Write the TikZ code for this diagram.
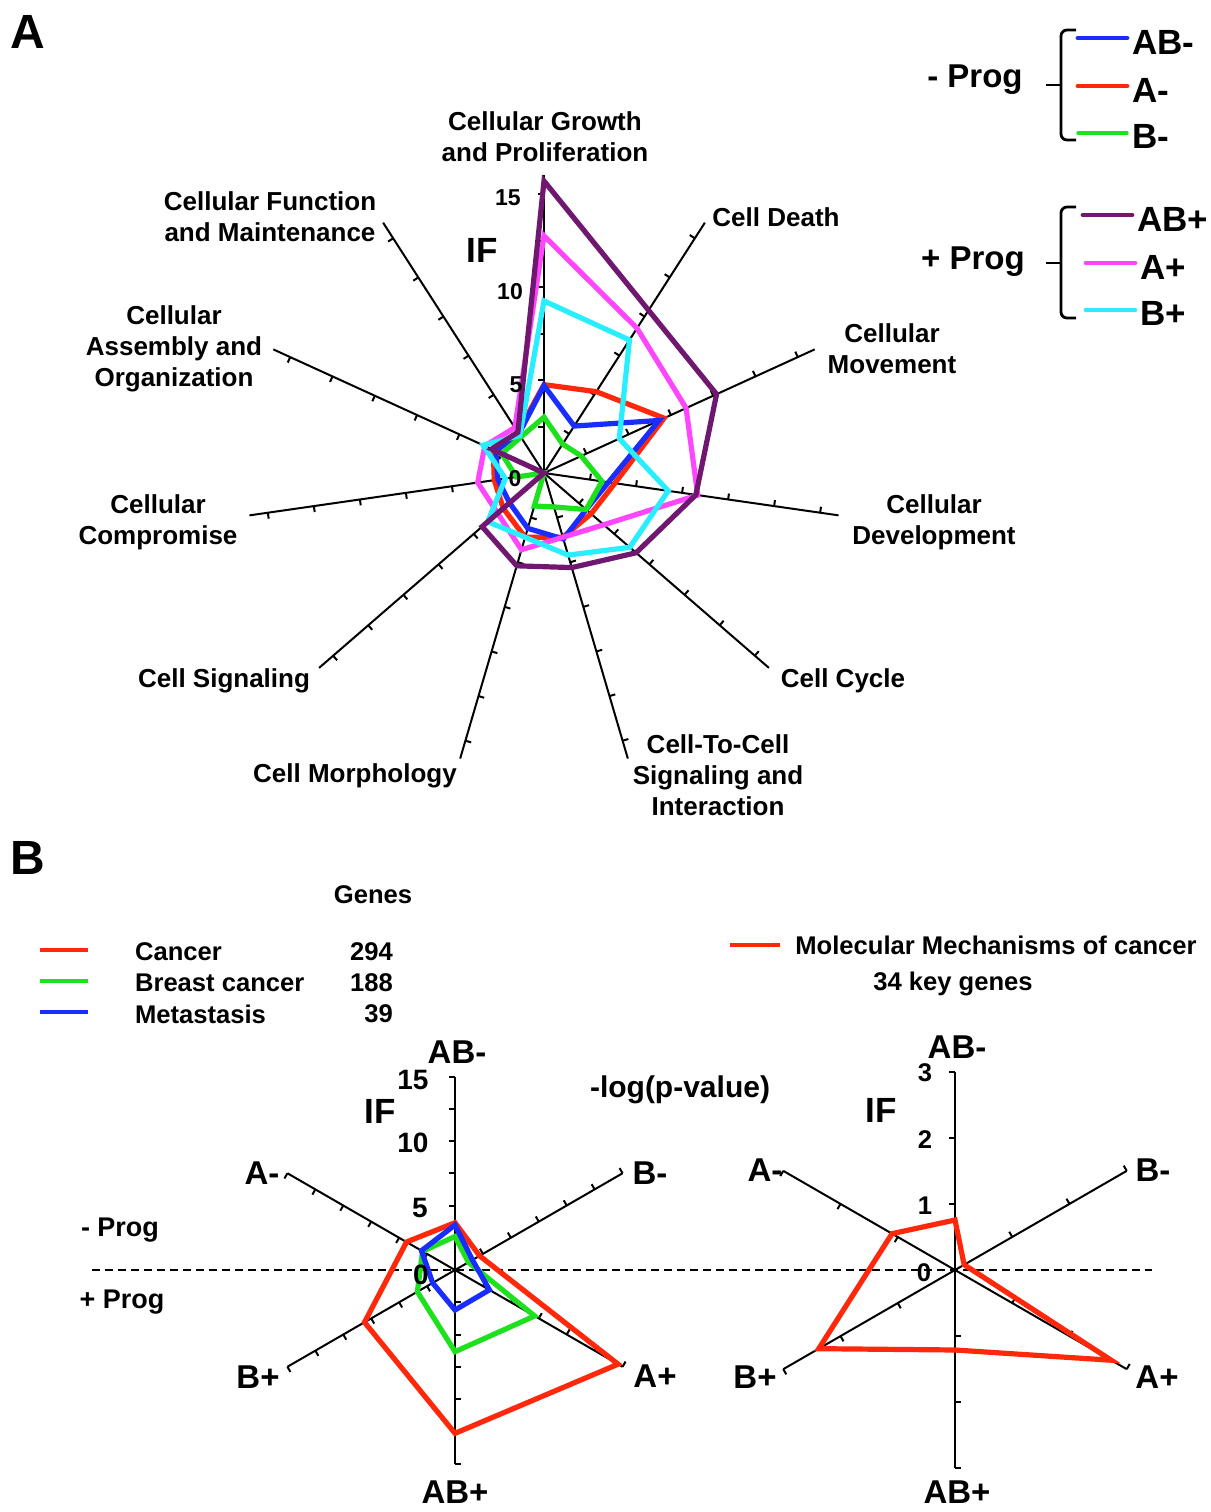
\documentclass[tikz,border=0pt]{standalone}
\usepackage{fontspec}
\setmainfont{Liberation Sans}

\definecolor{abneg}{RGB}{25,45,255}
\definecolor{aneg}{RGB}{255,40,10}
\definecolor{bneg}{RGB}{30,225,30}
\definecolor{abpos}{RGB}{112,24,112}
\definecolor{apos}{RGB}{255,70,255}
\definecolor{bpos}{RGB}{40,238,255}

\tikzset{
  poly/.style={line width=2.6pt},
  axisline/.style={line width=1pt},
  keyline/.style={line width=2.4pt, line cap=round},
  brace/.style={line width=1.4pt, rounded corners=3pt},
  cat/.style={font=\fontsize{13}{15.5}\selectfont\bfseries, align=center},
  num/.style={font=\fontsize{11.5}{13}\selectfont\bfseries},
  bignum/.style={font=\fontsize{14}{16}\selectfont\bfseries},
  axlab/.style={font=\fontsize{16.5}{19}\selectfont\bfseries},
  iflab/.style={font=\fontsize{17.5}{20}\selectfont\bfseries},
  keylab/.style={font=\fontsize{17.5}{20}\selectfont\bfseries, anchor=west, inner sep=0pt},
  proglab/.style={font=\fontsize{16.5}{19}\selectfont\bfseries},
  panel/.style={font=\fontsize{24}{28}\selectfont\bfseries},
  small/.style={font=\fontsize{12.8}{15}\selectfont\bfseries},
}

\newcommand\sA{18.6}
\newcommand\sB{12.9}
\newcommand\sC{66.1}
% colour, number of axes, scale, first value, other values
\newcommand\radar[5]{\draw[poly,#1] (90:{#4*#3}) \foreach \v [count=\i] in {#5} {-- ({90-\i*360/#2}:{\v*#3})} -- cycle;}

\begin{document}
\begin{tikzpicture}[x=0.5pt, y=-0.5pt]
\useasboundingbox (0,0) rectangle (1211,1512);

\node[panel] (lblA) at (28,32) {A};
\node[panel] (lblB) at (28,858) {B};

% panel A
\begin{scope}[shift={(544,473)}, yscale=-1]
\foreach \k in {0,...,10} {
  \draw[axisline] (0,0) -- ({90-\k*360/11}:{16*\sA});
  \foreach \t in {2.5,5,...,15}
    \draw[axisline] ({90-\k*360/11}:{\t*\sA}) -- ++({180-\k*360/11}:6);
}
\radar{aneg}{11}{\sA}{4.75}{5.2,7.1,3.85,3.35,3.6,3.6,2.9,2.7,3.0,2.6}
\radar{abneg}{11}{\sA}{4.7}{3.0,6.8,3.5,3.0,3.7,3.1,2.45,2.5,2.85,2.5}
\radar{bneg}{11}{\sA}{3.0}{1.85,2.2,3.15,3.0,1.9,1.85,0.0,1.5,2.5,2.3}
\radar{apos}{11}{\sA}{12.75}{9.25,8.4,8.35,4.25,3.6,4.3,3.3,3.6,3.5,2.9}
\radar{bpos}{11}{\sA}{9.25}{8.5,4.45,6.75,6.1,4.6,3.6,4.0,2.1,3.6,2.4}
\radar{abpos}{11}{\sA}{15.7}{10.4,10.2,8.25,6.55,5.3,5.2,4.4,0.0,3.1,2.6}
\end{scope}

\node[num] (n15) at (508,198) {15};
\node[num] (n10) at (510,292) {10};
\node[num] (n5) at (516,385) {5};
\node[num] (n0) at (515,479) {0};
\node[iflab] (ifA) at (482,250) {IF};

\node[cat] (growth) at (545,137) {Cellular Growth\\and Proliferation};
\node[cat] (death) at (776,217) {Cell Death};
\node[cat] (movement) at (892,349) {Cellular\\Movement};
\node[cat] (develop) at (934,522) {Cellular\\Development};
\node[cat] (cycle) at (843,681) {Cell Cycle};
\node[cat] (celltocell) at (718,775) {Cell-To-Cell\\Signaling and\\Interaction};
\node[cat] (morph) at (355,776) {Cell Morphology};
\node[cat] (signal) at (224,681) {Cell Signaling};
\node[cat] (compromise) at (158,522) {Cellular\\Compromise};
\node[cat] (assembly) at (174,349) {Cellular\\Assembly and\\Organization};
\node[cat] (function) at (270,217) {Cellular Function\\and Maintenance};

% key of panel A
\node[proglab] (minusprog) at (975,80) {- Prog};
\draw[brace] (1076,30) -- (1061,30) -- (1061,140) -- (1076,140);
\draw[brace] (1046,85) -- (1061,85);
\draw[keyline, abneg] (1078,38) -- (1127,38);
\draw[keyline, aneg] (1078,86) -- (1127,86);
\draw[keyline, bneg, line width=1.6pt] (1078,133) -- (1127,133);
\node[keylab] (kabn) at (1132,42) {AB-};
\node[keylab] (kan) at (1132,90) {A-};
\node[keylab] (kbn) at (1132,136) {B-};

\node[proglab] (plusprog) at (973,262) {+ Prog};
\draw[brace] (1076,207) -- (1061,207) -- (1061,318) -- (1076,318);
\draw[brace] (1046,263) -- (1061,263);
\draw[keyline, abpos] (1083,215) -- (1132,215);
\draw[keyline, apos] (1086,263) -- (1135,263);
\draw[keyline, bpos] (1086,310) -- (1135,310);
\node[keylab] (kabp) at (1137,219) {AB+};
\node[keylab] (kap) at (1140,267) {A+};
\node[keylab] (kbp) at (1140,313) {B+};

% panel B key
\node[small] (genes) at (373,895) {Genes};
\draw[keyline, aneg, line width=2pt, line cap=butt] (40,950) -- (88,950);
\draw[keyline, bneg, line width=2pt, line cap=butt] (40,981) -- (88,981);
\draw[keyline, abneg, line width=2pt, line cap=butt] (40,1012) -- (88,1012);
\node[small, anchor=west] (cancer) at (128,952) {Cancer};
\node[small, anchor=west] (breast) at (128,983) {Breast cancer};
\node[small, anchor=west] (meta) at (128,1014) {Metastasis};
\node[small, anchor=east] (g294) at (400,952) {294};
\node[small, anchor=east] (g188) at (400,983) {188};
\node[small, anchor=east] (g39) at (400,1014) {39};

\draw[keyline, aneg, line width=2pt, line cap=butt] (730,945) -- (780,945);
\node[small] (molmech) at (996,945) {Molecular Mechanisms of cancer};
\node[small] (keygenes) at (953,984) {34 key genes};

\draw[axisline, dashed, dash pattern=on 4pt off 2.5pt] (92,1270) -- (1152,1270);
\node[small, font=\fontsize{13.5}{16}\selectfont\bfseries] (bminus) at (120,1230) {- Prog};
\node[small, font=\fontsize{13.5}{16}\selectfont\bfseries] (bplus) at (122,1302) {+ Prog};
\node[axlab, font=\fontsize{15}{18}\selectfont\bfseries] (logp) at (680,1090) {-log(p-value)};

% panel B left
\begin{scope}[shift={(455,1270)}, yscale=-1]
\foreach \k in {0,...,5} {
  \draw[axisline] (0,0) -- ({90-\k*60}:{15*\sB});
  \foreach \t in {2.5,5,...,15}
    \draw[axisline] ({90-\k*60}:{\t*\sB}) -- ++({180-\k*60}:6);
}
\radar{aneg}{6}{\sB}{3.67}{2.2,14.6,12.66,8.1,4.34}
\radar{bneg}{6}{\sB}{2.6}{1.2,7.13,6.33,3.37,2.9}
\radar{abneg}{6}{\sB}{3.49}{1.56,3.08,3.1,2.0,3.0}
\end{scope}

\node[bignum] (b15) at (413,1080) {15};
\node[bignum] (b10) at (413,1143) {10};
\node[bignum] (b5) at (420,1208) {5};
\node[bignum] (b0) at (421,1275) {0};
\node[iflab] (ifB) at (380,1111) {IF};
\node[axlab] (labn) at (457,1052) {AB-};
\node[axlab] (lbn) at (650,1173) {B-};
\node[axlab] (lap) at (655,1376) {A+};
\node[axlab] (labp) at (455,1492) {AB+};
\node[axlab] (lbp) at (258,1377) {B+};
\node[axlab] (lan) at (262,1173) {A-};

% panel B right
\begin{scope}[shift={(955,1270)}, yscale=-1]
\foreach \k in {0,...,5} {
  \draw[axisline] (0,0) -- ({90-\k*60}:{3*\sC});
  \foreach \t in {1,2,3}
    \draw[axisline] ({90-\k*60}:{\t*\sC}) -- ++({180-\k*60}:6);
}
\radar{aneg}{6}{\sC}{0.756}{0.16,2.73,1.21,2.38,1.1}
\end{scope}

\node[small] (c3) at (925,1073) {3};
\node[small] (c2) at (925,1140) {2};
\node[small] (c1) at (925,1206) {1};
\node[small] (c0) at (924,1273) {0};
\node[iflab] (ifC) at (881,1110) {IF};
\node[axlab] (rabn) at (957,1047) {AB-};
\node[axlab] (rbn) at (1153,1170) {B-};
\node[axlab] (rap) at (1157,1377) {A+};
\node[axlab] (rabp) at (957,1492) {AB+};
\node[axlab] (rbp) at (755,1377) {B+};
\node[axlab] (ran) at (765,1170) {A-};
\end{tikzpicture}
\end{document}
